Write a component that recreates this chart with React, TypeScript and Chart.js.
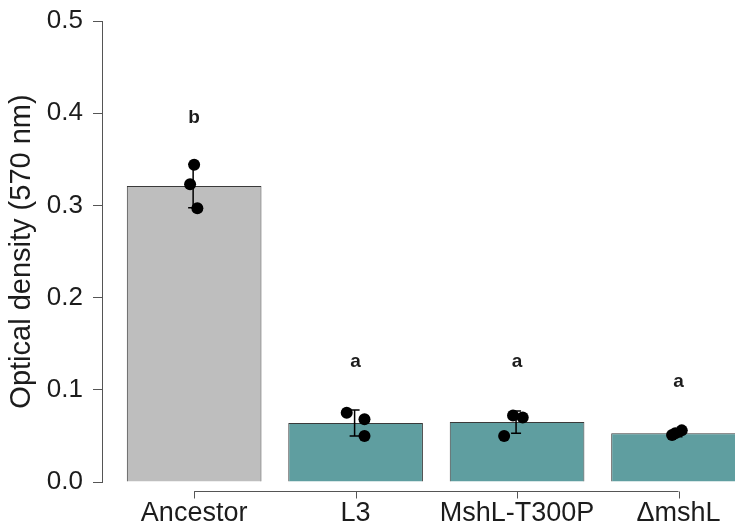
import React, { useEffect, useRef } from "react";
import { Chart, registerables } from "chart.js";

Chart.register(...registerables);

const categories = ["Ancestor", "L3", "MshL-T300P", "\u0394mshL"];
const barMeans = [0.321, 0.064, 0.065, 0.053];
const barSds = [0.0235, 0.014, 0.012, 0.004];
const replicateValues = [
  [0.344, 0.323, 0.297],
  [0.075, 0.068, 0.05],
  [0.072, 0.07, 0.05],
  [0.051, 0.056, 0.053],
];
const replicateJitter = [
  [0.0, -0.025, 0.02],
  [-0.055, 0.055, 0.055],
  [-0.025, 0.035, -0.08],
  [-0.04, 0.02, -0.02],
];
const groupLetters = ["b", "a", "a", "a"];
const letterValues = [0.395, 0.13, 0.13, 0.109];
const barColors = ["#bebebe", "#5f9ea0", "#5f9ea0", "#5f9ea0"];
const yTicks = [0, 0.1, 0.2, 0.3, 0.4, 0.5];

const FONT = "'Liberation Sans', Arial, sans-serif";
const TEXT = "#1c1c1c";
const AXIS = "#555555";

// x scale limits (layout only)
const X_MIN = 0.4294;
const X_MAX = 4.3497;

const overlay = {
  id: "overlay",
  afterDatasetDraw(chart: any, args: any) {
    if (args.index !== 0) return;
    const { ctx, scales } = chart;
    const xs = scales.x;
    const ys = scales.y;
    ctx.save();
    ctx.strokeStyle = "#000";
    ctx.lineWidth = 1.5;
    barMeans.forEach((m, i) => {
      const x = xs.getPixelForValue(i + 1) - 1;
      const yTop = ys.getPixelForValue(m + barSds[i]);
      const yBot = ys.getPixelForValue(m - barSds[i]);
      ctx.beginPath();
      ctx.moveTo(x, yTop);
      ctx.lineTo(x, yBot);
      ctx.moveTo(x - 5, yTop);
      ctx.lineTo(x + 5, yTop);
      ctx.moveTo(x - 5, yBot);
      ctx.lineTo(x + 5, yBot);
      ctx.stroke();
    });
    ctx.restore();
  },
  afterDraw(chart: any) {
    const { ctx, scales, chartArea } = chart;
    const xs = scales.x;
    const ys = scales.y;
    ctx.save();
    const yLine = chartArea.bottom + 9.5;
    ctx.strokeStyle = AXIS;
    ctx.lineWidth = 1;
    ctx.beginPath();
    ctx.moveTo(xs.getPixelForValue(1), yLine);
    ctx.lineTo(xs.getPixelForValue(categories.length), yLine);
    categories.forEach((_, i) => {
      const x = Math.round(xs.getPixelForValue(i + 1)) + 0.5;
      ctx.moveTo(x, yLine);
      ctx.lineTo(x, yLine + 7);
    });
    ctx.stroke();
    ctx.fillStyle = TEXT;
    ctx.font = `bold 19px ${FONT}`;
    ctx.textAlign = "center";
    ctx.textBaseline = "middle";
    groupLetters.forEach((l, i) => {
      ctx.fillText(l, xs.getPixelForValue(i + 1), ys.getPixelForValue(letterValues[i]));
    });
    ctx.restore();
  },
};

export default function App() {
  const ref = useRef<HTMLCanvasElement | null>(null);
  useEffect(() => {
    if (!ref.current) return;
    const points: { x: number; y: number }[] = [];
    replicateValues.forEach((vals, i) =>
      vals.forEach((v, j) => points.push({ x: i + 1 + replicateJitter[i][j], y: v }))
    );
    const chart = new Chart(ref.current, {
      type: "bar",
      data: {
        datasets: [
          {
            type: "bar",
            data: barMeans.map((m, i) => ({ x: i + 1, y: m })),
            backgroundColor: barColors,
            borderColor: "#3a3a3a",
            borderWidth: 1,
            categoryPercentage: 1,
            barPercentage: 0.834,
            order: 1,
          } as any,
          {
            type: "scatter",
            data: points,
            backgroundColor: "#000",
            borderColor: "#000",
            pointRadius: 6,
            pointBorderWidth: 0,
            order: 0,
          } as any,
        ],
      },
      options: {
        animation: false,
        responsive: false,
        devicePixelRatio: 1,
        layout: { padding: { top: 21, right: 0, bottom: 0, left: 0 } },
        plugins: { legend: { display: false }, tooltip: { enabled: false } },
        scales: {
          x: {
            type: "linear",
            offset: false,
            min: X_MIN,
            max: X_MAX,
            afterBuildTicks(s: any) {
              s.ticks = categories.map((_, i) => ({ value: i + 1 }));
            },
            afterFit(s: any) {
              s.height = 43;
              s.paddingLeft = 0;
              s.paddingRight = 0;
            },
            ticks: {
              autoSkip: false,
              maxRotation: 0,
              padding: 15,
              color: TEXT,
              font: { size: 27, family: FONT },
              callback: (v: any) => categories[Math.round(Number(v)) - 1] ?? "",
            },
            grid: { display: false, drawTicks: false, offset: false },
            border: { display: false },
          },
          y: {
            min: 0,
            max: 0.5,
            afterBuildTicks(s: any) {
              s.ticks = yTicks.map((v) => ({ value: v }));
            },
            afterFit(s: any) {
              s.width = 102;
              s.paddingTop = 0;
              s.paddingBottom = 0;
            },
            ticks: {
              padding: 10,
              color: TEXT,
              font: { size: 26, family: FONT },
              callback: (v: any) => Number(v).toFixed(1),
            },
            grid: { display: true, drawOnChartArea: false, drawTicks: true, tickLength: 9, color: AXIS },
            border: { display: true, color: AXIS, width: 1 },
            title: {
              display: true,
              text: "Optical density (570 nm)",
              color: TEXT,
              font: { size: 29, family: FONT },
              padding: { top: 5, bottom: 0 },
            },
          },
        },
      },
      plugins: [overlay],
    });
    return () => chart.destroy();
  }, []);
  return (
    <div style={{ position: "fixed", left: 0, top: 0, width: 741, height: 525, background: "#fff" }}>
      <canvas ref={ref} width={741} height={525} />
    </div>
  );
}
